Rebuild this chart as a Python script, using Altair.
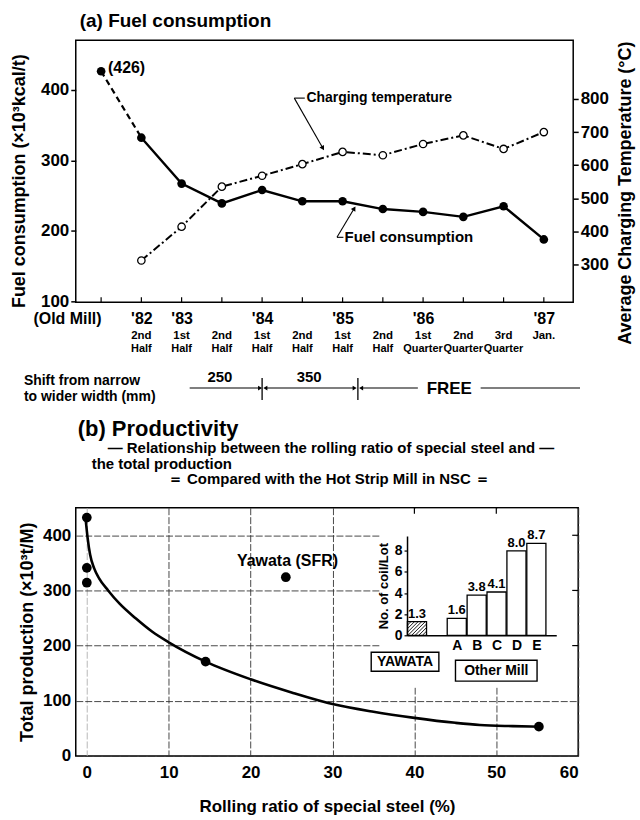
import json
import altair as alt
import pandas as pd

SANS = "'Liberation Sans', 'DejaVu Sans', sans-serif"

# ---------------- data: (a) Fuel consumption ----------------
period_index = list(range(12))
year_labels = ["(Old Mill)", "'82", "'83", "", "'84", "", "'85", "", "'86", "", "", "'87"]
period_top = ["", "2nd", "1st", "2nd", "1st", "2nd", "1st", "2nd", "1st", "2nd", "3rd", "Jan."]
period_bottom = ["", "Half", "Half", "Half", "Half", "Half", "Half", "Half",
                 "Quarter", "Quarter", "Quarter", ""]
fuel_consumption = [426, 332, 267, 239, 258, 242, 242, 231, 227, 220, 235, 188]
charging_temp = [None, 312, 414, 535, 568, 603, 640, 630, 664, 690, 649, 700]

shift_labels = ["250", "350", "FREE"]
shift_start = [2.2, 4.08, 6.46]
shift_end = [3.95, 6.30, 11.9]
shift_bounds = [4.0, 6.38]

# ---------------- data: (b) Productivity ----------------
rolling_ratio = [0, 0, 0, 14.5, 24.3, 55.2]
total_production = [432, 341, 314, 171, 324, 53]
curve_x = [-0.15, 0.1, 0.4, 0.9, 1.5, 2.6, 4.0, 6.0, 8.0, 10.0, 14.5, 20, 25, 30, 35, 40, 45, 48, 52, 55.2]
curve_y = [430, 395, 365, 340, 322, 300, 276, 249, 225, 206, 171, 139, 115, 94, 80, 69, 60, 56, 54, 53]

inset_categories = ["YAWATA", "A", "B", "C", "D", "E"]
inset_slot = [0, 2, 3, 4, 5, 6]
coil_per_lot = [1.3, 1.6, 3.8, 4.1, 8.0, 8.7]

# ======================= chart (a) =======================
W_A, H_A = 499, 263
xs_a = alt.Scale(domain=[-0.63, 11.73], nice=False, zero=False)
yl_a = alt.Scale(domain=[99, 470], nice=False, zero=False)
yr_a = alt.Scale(domain=[185.5, 977.7], nice=False, zero=False)

x_axis_a = alt.Axis(
    values=period_index, labelExpr=json.dumps(year_labels) + "[datum.value]",
    labelAlign={"condition": {"test": "datum.value == 0", "value": "right"}, "value": "center"},
    ticks=False, domain=False, grid=False, title=None,
    labelFont=SANS, labelFontSize=16, labelFontWeight="bold", labelPadding=8, labelColor="black")
yl_axis = alt.Axis(
    values=[100, 200, 300, 400], tickSize=5, tickWidth=1.5, tickColor="black",
    domain=False, grid=False, title="Fuel consumption (×10³kcal/t)", titleY=141,
    titleFont=SANS, titleFontSize=18, titleFontWeight="bold", titlePadding=12, titleColor="black",
    labelFont=SANS, labelFontSize=17, labelFontWeight="bold", labelPadding=2, labelColor="black")
yr_axis = alt.Axis(
    orient="right", values=[300, 400, 500, 600, 700, 800], tickSize=5, tickWidth=1.5, tickColor="black",
    domain=False, grid=False, title="Average Charging Temperature (°C)",
    titleAngle=270, titleBaseline="top", titleY=153,
    titleFont=SANS, titleFontSize=18, titleFontWeight="bold", titlePadding=8, titleColor="black",
    labelFont=SANS, labelFontSize=17, labelFontWeight="bold", labelPadding=2, labelColor="black")

XA = alt.X("i:Q", scale=xs_a, axis=x_axis_a)
YA = alt.Y("v:Q", scale=yl_a, axis=yl_axis)
YT = alt.Y("t:Q", scale=yr_a, axis=yr_axis)

df_fuel = pd.DataFrame({"i": period_index, "v": fuel_consumption})
df_temp = pd.DataFrame({"i": period_index[1:], "t": charging_temp[1:]})
df_periods = pd.DataFrame({"i": period_index, "top": period_top, "bottom": period_bottom})

fuel_dash = alt.Chart(df_fuel.iloc[:2]).mark_line(color="black", strokeWidth=2.2, strokeDash=[6, 4]).encode(x=XA, y=YA)
fuel_solid = alt.Chart(df_fuel.iloc[1:]).mark_line(color="black", strokeWidth=2.4).encode(x=XA, y=YA)
fuel_pts = alt.Chart(df_fuel).mark_circle(color="black", size=75, opacity=1).encode(x=XA, y=YA)

lbl426 = alt.Chart(pd.DataFrame({"i": [0.17], "v": [fuel_consumption[0] + 5],
                                 "s": [f"({fuel_consumption[0]})"]})).mark_text(
    align="left", baseline="middle", font=SANS, fontSize=16, fontWeight="bold", color="black"
).encode(x=XA, y=YA, text="s:N")

ann_text = alt.Chart(pd.DataFrame({"i": [5.1, 6.05], "v": [388, 191],
                                   "s": ["Charging temperature", "Fuel consumption"],
                                   "fs": [14, 15]})).mark_text(
    align="left", baseline="middle", font=SANS, fontWeight="bold", color="black"
).encode(x=XA, y=YA, text="s:N", size=alt.Size("fs:Q", scale=None, legend=None))
ann_lines = alt.Chart(pd.DataFrame({"i": [4.8, 4.8, 5.86, 5.86], "i2": [5.06, 5.5, 6.02, 6.28],
                                    "v": [388, 388, 191, 191], "v2": [388, 318, 191, 231]})).mark_rule(
    color="black", strokeWidth=1.1).encode(x=XA, x2="i2", y=YA, y2="v2")
ann_heads = alt.Chart(pd.DataFrame({"i": [5.5, 6.28], "v": [318, 231], "a": [149, 31]})).mark_point(
    shape="triangle", filled=True, color="black", size=28, opacity=1
).encode(x=XA, y=YA, angle=alt.Angle("a:Q", scale=None))

x_ticks_a = alt.Chart(df_fuel).mark_rule(color="black", strokeWidth=1.2).encode(
    x=XA, y=alt.value(H_A), y2=alt.value(H_A - 5))

per_top = alt.Chart(df_periods).mark_text(font=SANS, fontSize=11.5, fontWeight="bold", color="black",
                                          baseline="middle").encode(x=XA, y=alt.value(H_A + 34), text="top:N")
per_bot = alt.Chart(df_periods).mark_text(font=SANS, fontSize=11, fontWeight="bold", color="black",
                                          baseline="middle").encode(x=XA, y=alt.value(H_A + 47), text="bottom:N")

# width-shift annotation row
free_c = 8.65
df_shift_rules = pd.DataFrame({"i": [shift_start[0], shift_start[1], shift_start[2], free_c + 0.78],
                               "i2": [shift_end[0], shift_end[1], free_c - 0.78, shift_end[2]]})
shift_rules = alt.Chart(df_shift_rules).mark_rule(color="black", strokeWidth=1.1).encode(
    x=XA, x2="i2", y=alt.value(349))
shift_bars = alt.Chart(pd.DataFrame({"i": shift_bounds})).mark_rule(color="black", strokeWidth=1.3).encode(
    x=XA, y=alt.value(339), y2=alt.value(361))
shift_heads = alt.Chart(pd.DataFrame({"i": [shift_end[0], shift_start[1], shift_end[1], shift_start[2]],
                                      "sh": ["triangle-right", "triangle-left", "triangle-right", "triangle-left"]})
                        ).mark_point(filled=True, color="black", size=22, opacity=1).encode(
    x=XA, y=alt.value(349), shape=alt.Shape("sh:N", scale=None))
shift_nums = alt.Chart(pd.DataFrame({"i": [2.95, 5.17], "s": shift_labels[:2]})).mark_text(
    font=SANS, fontSize=15, fontWeight="bold", color="black", baseline="middle").encode(
    x=XA, y=alt.value(338), text="s:N")
shift_free = alt.Chart(pd.DataFrame({"i": [free_c], "s": [shift_labels[2]]})).mark_text(
    font=SANS, fontSize=17, fontWeight="bold", color="black", baseline="middle").encode(
    x=XA, y=alt.value(350), text="s:N")
shift_caption = alt.Chart(pd.DataFrame({"s": ["Shift from narrow", "to wider width (mm)"],
                                        "yy": [342, 358]})).mark_text(
    font=SANS, fontSize=14, fontWeight="bold", color="black", align="left", baseline="middle").encode(
    x=alt.value(-52), y=alt.Y("yy:Q", scale=None), text="s:N")

left_group = alt.layer(fuel_dash, fuel_solid, fuel_pts, lbl426, ann_text, ann_lines, ann_heads,
                       x_ticks_a, per_top, per_bot, shift_rules, shift_bars, shift_heads,
                       shift_nums, shift_free, shift_caption)

temp_line = alt.Chart(df_temp).mark_line(color="black", strokeWidth=2, strokeDash=[8, 3, 2, 3]).encode(x=XA, y=YT)
temp_pts = alt.Chart(df_temp).mark_point(shape="circle", filled=True, fill="white", stroke="black",
                                         strokeWidth=1.3, size=55, opacity=1).encode(x=XA, y=YT)
temp_group = alt.layer(temp_line, temp_pts)

chart_a = alt.layer(left_group, temp_group).resolve_scale(y="independent").properties(
    width=W_A, height=H_A,
    title=alt.TitleParams("(a)  Fuel consumption", anchor="start", frame="group", font=SANS, fontSize=19,
                          fontWeight="bold", color="black", dx=4, offset=9))

# ======================= chart (b) =======================
W_B, H_B = 504, 249
xs_b = alt.Scale(domain=[-1.35, 60], nice=False, zero=False)
ys_b = alt.Scale(domain=[0, 450], nice=False, zero=False)
xb_axis = alt.Axis(
    values=[0, 10, 20, 30, 40, 50, 60], ticks=False, domain=False,
    grid=True, gridColor={"condition": {"test": "datum.value == 0", "value": "#b0b0b0"}, "value": "#333333"},
    gridWidth=0.9, gridDash=[7, 2],
    title="Rolling ratio of special steel  (%)", titleFont=SANS, titleFontSize=17, titleFontWeight="bold",
    titlePadding=18, titleColor="black",
    labelFont=SANS, labelFontSize=17, labelFontWeight="bold", labelPadding=9, labelColor="black")
yb_axis = alt.Axis(
    values=[0, 100, 200, 300, 400], ticks=False, domain=False,
    grid=True, gridColor="#333333", gridWidth=0.9, gridDash=[7, 2],
    title="Total production (×10³t/M)", titleFont=SANS, titleFontSize=18, titleFontWeight="bold",
    titlePadding=6, titleColor="black",
    labelFont=SANS, labelFontSize=17, labelFontWeight="bold", labelPadding=5, labelColor="black")


def XB(f):
    return alt.X(f, scale=xs_b, axis=xb_axis)


def YB(f):
    return alt.Y(f, scale=ys_b, axis=yb_axis)


df_prod = pd.DataFrame({"x": rolling_ratio, "y": total_production})
df_curve = pd.DataFrame({"x": curve_x, "y": curve_y})

mask = alt.Chart(pd.DataFrame({"x": [35.8], "x2": [59.8], "y": [124], "y2": [448]})).mark_rect(
    color="white").encode(x=XB("x:Q"), x2="x2", y=YB("y:Q"), y2="y2")
curve = alt.Chart(df_curve).mark_line(color="black", strokeWidth=2.6, interpolate="monotone").encode(
    x=XB("x:Q"), y=YB("y:Q"))
prod_pts = alt.Chart(df_prod).mark_circle(color="black", size=95, opacity=1).encode(x=XB("x:Q"), y=YB("y:Q"))
yawata_lbl = alt.Chart(pd.DataFrame({"x": [rolling_ratio[4] + 0.2], "y": [total_production[4] + 30],
                                     "s": ["Yawata  (SFR)"]})).mark_text(
    font=SANS, fontSize=16, fontWeight="bold", color="black", baseline="middle").encode(
    x=XB("x:Q"), y=YB("y:Q"), text="s:N")
top_ticks = alt.Chart(pd.DataFrame({"x": [40, 50]})).mark_rule(color="black", strokeWidth=1.2).encode(
    x=XB("x:Q"), y=alt.value(0), y2=alt.value(6))
right_ticks = alt.Chart(pd.DataFrame({"y": [200, 300, 400]})).mark_rule(color="black", strokeWidth=1.2).encode(
    y=YB("y:Q"), x=alt.value(W_B), x2=alt.value(W_B - 6))

title_b = alt.Chart(pd.DataFrame({"s": ["(b)   Productivity"]})).mark_text(
    font=SANS, fontSize=22, fontWeight="bold", color="black", align="left", baseline="middle").encode(
    x=alt.value(2), y=alt.value(-79), text="s:N")
sub_center = alt.Chart(pd.DataFrame({
    "s": ["—   Relationship between the rolling ratio of special steel and   —",
          "＝  Compared with the Hot Strip Mill in NSC  ＝"],
    "xx": [256, 254], "yy": [-60, -29]})).mark_text(
    font=SANS, fontSize=15, fontWeight="bold", color="black", baseline="middle", align="center").encode(
    x=alt.X("xx:Q", scale=None), y=alt.Y("yy:Q", scale=None), text="s:N")
sub_left = alt.Chart(pd.DataFrame({"s": ["the total production"], "xx": [16], "yy": [-44]})).mark_text(
    font=SANS, fontSize=15, fontWeight="bold", color="black", baseline="middle", align="left").encode(
    x=alt.X("xx:Q", scale=None), y=alt.Y("yy:Q", scale=None), text="s:N")

main_b = alt.layer(mask, curve, prod_pts, yawata_lbl, top_ticks, right_ticks, title_b, sub_center, sub_left)

# inset bar chart
IN_X0, IN_X1 = 332.3, 482.0
xs_in = alt.Scale(domain=[-0.5, 7.0], range=[IN_X0, IN_X1])
ys_in = alt.Scale(domain=[0, 9.4], range=[128, 28.4])
x_in_axis = alt.Axis(
    orient="bottom", offset=-(H_B - 128), values=[2, 3, 4, 5, 6],
    labelExpr=json.dumps(["", ""] + inset_categories[1:]) + "[datum.value]",
    ticks=False, domain=True, domainColor="black", domainWidth=1.5, grid=False, title=None,
    labelFont=SANS, labelFontSize=14, labelFontWeight="bold", labelPadding=3, labelColor="black", zindex=1)
y_in_axis = alt.Axis(
    orient="left", offset=-IN_X0, values=[0, 2, 4, 6, 8], tickSize=3, tickColor="black", tickWidth=1.2,
    domain=True, domainColor="black", domainWidth=1.5, grid=False, title="No. of coil/Lot",
    titleFont=SANS, titleFontSize=13, titleFontWeight="bold", titlePadding=4, titleColor="black",
    labelFont=SANS, labelFontSize=14, labelFontWeight="bold", labelPadding=2, labelColor="black", zindex=1)


def XI(f):
    return alt.X(f, scale=xs_in, axis=x_in_axis)


def YI(f):
    return alt.Y(f, scale=ys_in, axis=y_in_axis)


df_in = pd.DataFrame({"slot": inset_slot, "v": coil_per_lot, "cat": inset_categories})
df_in["lo"] = df_in["slot"] - 0.48
df_in["hi"] = df_in["slot"] + 0.48
df_in["base"] = 0.0
df_in["lbl"] = [f"{v:.1f}" for v in coil_per_lot]

bars_in = alt.Chart(df_in).mark_rect(fill="white", stroke="black", strokeWidth=1.3).encode(
    x=XI("lo:Q"), x2="hi", y=YI("base:Q"), y2="v")

# diagonal hatching of the YAWATA bar (geometry derived from its value)
px_x, px_y = (IN_X1 - IN_X0) / 7.5, (128 - 28.4) / 9.4
bw, bh = 0.96 * px_x, coil_per_lot[0] * px_y
hatch = []
u = -bh
while u < bw:
    sx, sy = max(u, 0.0), max(0.0, -u)
    ex, ey = min(u + bh, bw), min(bh, bw - u)
    hatch.append({"hx": -0.48 + sx / px_x, "hx2": -0.48 + ex / px_x, "hy": sy / px_y, "hy2": ey / px_y})
    u += 3.6
hatch_in = alt.Chart(pd.DataFrame(hatch)).mark_rule(color="black", strokeWidth=0.9).encode(
    x=XI("hx:Q"), x2="hx2", y=YI("hy:Q"), y2="hy2")

vals_in = alt.Chart(df_in).mark_text(font=SANS, fontSize=13, fontWeight="bold", color="black",
                                     baseline="bottom", dy=-1).encode(
    x=XI("slot:Q"), y=YI("v:Q"), text="lbl:N")

boxes = alt.Chart(pd.DataFrame({"bx": [-2.3, 1.935], "bx2": [1.1, 6.035],
                                "by": [-1.6, -2.36], "by2": [-3.4, -4.34]})).mark_rect(
    fill="white", stroke="black", strokeWidth=1.4).encode(x=XI("bx:Q"), x2="bx2", y=YI("by:Q"), y2="by2")
box_txt = alt.Chart(pd.DataFrame({"bx": [-0.6, 3.985], "by": [-2.5, -3.35],
                                  "s": [inset_categories[0], "Other  Mill"]})).mark_text(
    font=SANS, fontSize=14, fontWeight="bold", color="black", baseline="middle").encode(
    x=XI("bx:Q"), y=YI("by:Q"), text="s:N")

inset = alt.layer(bars_in, hatch_in, vals_in, boxes, box_txt)

chart_b = alt.layer(main_b, inset).resolve_scale(x="independent", y="independent").properties(
    width=W_B, height=H_B)

chart = alt.vconcat(chart_a, chart_b, spacing=12).properties(
    padding={"left": 9, "top": 10, "right": 4, "bottom": 3}, background="white"
).configure_view(stroke="black", strokeWidth=1.5)

chart.save("out.html", embed_options={"renderer": "svg", "actions": False})
